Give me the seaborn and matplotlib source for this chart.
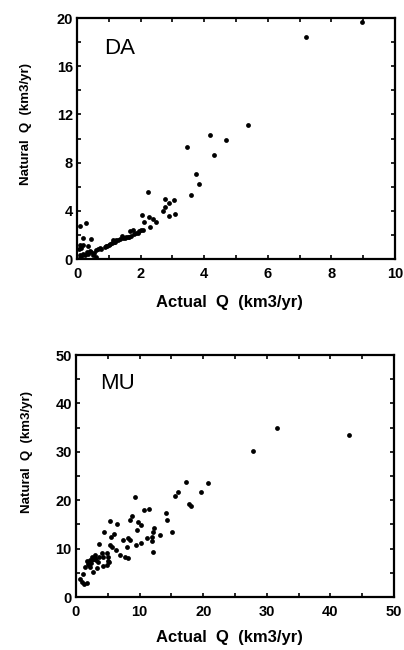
import matplotlib
matplotlib.use("Agg")
import matplotlib.pyplot as plt
import seaborn as sns
import pandas as pd
from matplotlib.ticker import MultipleLocator

# DA panel data (Actual Q, Natural Q), km3/yr
da_actual = [8.97, 7.20, 5.38, 4.19, 4.69, 3.45, 4.31, 3.75, 3.83, 3.57,
             2.24, 2.77, 3.04, 2.89, 2.78, 2.72, 2.90, 3.09, 2.03, 2.26,
             2.40, 2.50, 2.29, 2.11, 2.08, 1.92, 1.76, 1.66, 1.63, 1.45,
             1.40, 1.24, 1.13, 1.03, 0.87, 0.77, 0.61, 0.45, 0.35, 0.24,
             0.14, 0.08, 0.29, 0.08, 0.19, 0.45, 0.08, 0.19, 0.35, 0.14,
             0.06, 0.61, 0.50, 0.72, 0.90, 1.00, 1.10, 1.20, 1.30, 1.35,
             1.50, 1.55, 1.60, 1.70, 1.80, 1.85, 1.95, 2.00, 0.30, 0.40,
             0.55, 0.20, 0.10, 0.65, 0.95, 1.15]
da_natural = [19.64, 18.40, 11.10, 10.26, 9.85, 9.29, 8.60, 7.07, 6.19, 5.33,
              5.55, 4.99, 4.91, 4.69, 4.33, 3.97, 3.55, 3.74, 3.69, 3.47,
              3.36, 3.05, 2.66, 3.08, 2.39, 2.16, 2.44, 2.33, 1.83, 1.78,
              1.89, 1.61, 1.55, 1.28, 1.00, 0.86, 0.72, 0.58, 0.44, 0.31,
              0.17, 0.10, 3.00, 2.72, 1.78, 1.64, 1.14, 1.14, 1.05, 0.94,
              0.86, 0.17, 0.30, 0.90, 1.10, 1.20, 1.35, 1.45, 1.55, 1.70,
              1.75, 1.85, 1.80, 1.90, 2.10, 2.15, 2.30, 2.45, 0.60, 0.65,
              0.50, 0.40, 0.30, 0.80, 1.05, 1.40]

# MU panel data
mu_actual = [42.98, 31.55, 27.78, 20.70, 17.35, 19.60, 16.04, 15.57, 17.70, 18.03,
             9.22, 11.43, 10.69, 14.15, 14.36, 15.10, 13.20, 12.26, 12.05, 12.00,
             11.90, 12.16, 11.20, 10.17, 9.38, 9.54, 9.80, 10.30, 8.49, 8.75,
             8.10, 8.50, 7.34, 7.97, 7.70, 8.20, 6.92, 6.24, 5.35, 6.39,
             6.03, 5.50, 5.35, 5.60, 4.40, 3.67, 4.82, 5.10, 5.24, 4.82,
             4.30, 3.50, 3.35, 2.72, 2.20, 1.94, 1.68, 2.46, 2.99, 2.72,
             4.04, 4.30, 1.40, 1.05, 0.63, 0.89, 1.26, 1.68, 2.20, 2.60,
             3.10, 3.67, 2.00, 2.40, 3.00, 5.00]
mu_natural = [33.40, 34.90, 30.07, 23.60, 23.86, 21.66, 21.66, 20.97, 19.17, 18.83,
              20.60, 18.14, 17.93, 17.38, 15.93, 13.50, 12.76, 14.20, 13.45, 12.40,
              11.50, 9.30, 12.28, 11.17, 10.70, 13.80, 15.50, 14.97, 16.00, 16.70,
              12.28, 11.86, 11.86, 10.30, 8.30, 8.07, 8.76, 9.66, 15.66, 15.17,
              13.10, 12.30, 10.83, 10.30, 13.40, 10.90, 9.10, 8.28, 7.24, 6.69,
              6.48, 7.24, 6.07, 5.17, 6.20, 6.90, 7.45, 8.28, 8.76, 7.90,
              9.10, 8.28, 6.20, 4.70, 3.80, 3.10, 2.76, 2.97, 7.60, 7.80,
              7.60, 8.30, 6.60, 7.00, 8.00, 7.40]

plt.rcParams['font.family'] = ['Liberation Sans', 'DejaVu Sans']

fig = plt.figure(figsize=(4.04, 6.5), dpi=100)
ax1 = fig.add_axes([0.1906, 0.6015, 0.7871, 0.3708])
ax2 = fig.add_axes([0.1881, 0.0815, 0.7871, 0.3723])

df_da = pd.DataFrame({"actual": da_actual, "natural": da_natural})
df_mu = pd.DataFrame({"actual": mu_actual, "natural": mu_natural})

sns.scatterplot(data=df_da, x="actual", y="natural", ax=ax1, color="black",
                s=12, linewidth=0, legend=False)
sns.scatterplot(data=df_mu, x="actual", y="natural", ax=ax2, color="black",
                s=12, linewidth=0, legend=False)

def style(ax, xmax, ymax, xmaj, xmin, ymaj, ymin, tag, tx, ty,
          xlab_pos, ylab_pos):
    ax.set_xlim(0, xmax)
    ax.set_ylim(0, ymax)
    ax.xaxis.set_major_locator(MultipleLocator(xmaj))
    ax.xaxis.set_minor_locator(MultipleLocator(xmin))
    ax.yaxis.set_major_locator(MultipleLocator(ymaj))
    ax.yaxis.set_minor_locator(MultipleLocator(ymin))
    ax.tick_params(which='both', direction='in', top=True, right=True,
                   length=3.2, width=1.2, labelsize=10.5)
    ax.tick_params(axis='x', which='both', pad=5.5)
    ax.tick_params(axis='y', which='both', pad=3)
    for lab in ax.get_xticklabels() + ax.get_yticklabels():
        lab.set_fontweight('bold')
    for sp in ax.spines.values():
        sp.set_linewidth(1.6)
        sp.set_color('black')
    ax.set_xlabel("Actual  Q  (km3/yr)", fontsize=12, fontweight='bold')
    ax.set_ylabel("Natural  Q  (km3/yr)", fontsize=9.5, fontweight='bold')
    ax.xaxis.set_label_coords(*xlab_pos)
    ax.yaxis.set_label_coords(*ylab_pos)
    ax.text(tx, ty, tag, transform=ax.transAxes, fontsize=16, ha='left', va='center')
    ax.set_facecolor('white')

style(ax1, 10, 20, 2, 1, 4, 2, "DA", 0.085, 0.875, (0.48, -0.150), (-0.142, 0.56))
style(ax2, 50, 50, 10, 5, 10, 5, "MU", 0.077, 0.884, (0.484, -0.138), (-0.136, 0.60))

fig.savefig("out.png", dpi=100, facecolor='white')
